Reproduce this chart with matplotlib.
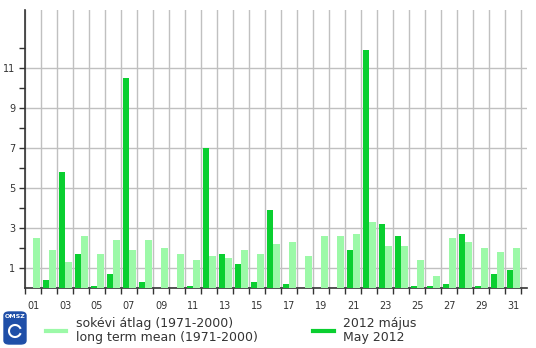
import matplotlib
matplotlib.use("Agg")
import matplotlib.pyplot as plt
from matplotlib.patches import FancyBboxPatch, Arc
import numpy as np

days = list(range(1, 32))
may_2012 = [0, 0.4, 5.8, 1.7, 0.1, 0.7, 10.5, 0.3, 0, 0, 0.1, 7.0, 1.7, 1.2, 0.3,
            3.9, 0.2, 0, 0, 0, 1.9, 11.9, 3.2, 2.6, 0.1, 0.1, 0.2, 2.7, 0.1, 0.7, 0.9]
long_term_mean = [2.5, 1.9, 1.3, 2.6, 1.7, 2.4, 1.9, 2.4, 2.0, 1.7, 1.4, 1.6, 1.5, 1.9, 1.7,
                  2.2, 2.3, 1.6, 2.6, 2.6, 2.7, 3.3, 2.1, 2.1, 1.4, 0.6, 2.5, 2.3, 2.0, 1.8, 2.0]
tick_days = list(range(1, 32, 2))
tick_labels = [f"{d:02d}" for d in tick_days]
y_major = [1, 3, 5, 7, 9, 11]
y_minor = [2, 4, 6, 8, 10, 12]

dark = "#0acf30"
light = "#9cf9a8"
grid_c = "#c0c0c0"
axis_c = "#333333"

W, H = 536, 348
fig = plt.figure(figsize=(W / 100, H / 100), dpi=100)
ax = fig.add_axes([25 / W, (H - 288.3) / H, (527 - 25) / W, (288.3 - 10) / H])

x = np.array(days, dtype=float)
ax.bar(x - 0.375, may_2012, width=0.375, align="edge", color=dark, zorder=3, linewidth=0)
ax.bar(x, long_term_mean, width=0.4375, align="edge", color=light, zorder=3, linewidth=0)

ax.set_xlim(0.5, 31.875)
ax.set_ylim(0, 13.9)

# x ticks: labels at odd days (no marks), marks at slot boundaries
ax.set_xticks(tick_days)
ax.set_xticklabels(tick_labels)
ax.set_xticks(np.arange(0.5, 32, 1.0), minor=True)
ax.tick_params(axis="x", which="major", length=0, pad=9, labelsize=7, labelcolor=axis_c)
ax.tick_params(axis="x", which="minor", length=4, width=1, color=axis_c, direction="out")
ax.xaxis.grid(True, which="minor", color=grid_c, linewidth=1, zorder=0)
for lbl in ax.get_xticklabels():
    lbl.set_x(lbl.get_position()[0])

ax.set_yticks(y_major)
ax.set_yticks(y_minor, minor=True)
ax.tick_params(axis="y", which="both", length=4, width=1, color=axis_c, direction="out",
               labelsize=7, labelcolor=axis_c, pad=3)
ax.yaxis.grid(True, which="major", color=grid_c, linewidth=1, zorder=0)
ax.set_axisbelow(True)

for s in ["top", "right"]:
    ax.spines[s].set_visible(False)
for s in ["left", "bottom"]:
    ax.spines[s].set_color(axis_c)
    ax.spines[s].set_linewidth(1.2)

# legend
def px(xp, yp):
    return xp / W, 1 - yp / H

fig.add_artist(plt.Line2D([46 / W, 66 / W], [1 - 331 / H] * 2, color=light, linewidth=3,
                          transform=fig.transFigure))
fig.add_artist(plt.Line2D([313 / W, 334 / W], [1 - 331 / H] * 2, color=dark, linewidth=3,
                          transform=fig.transFigure))
fig.text(*px(76, 323), "sokévi átlag (1971-2000)", fontsize=9, color=axis_c, va="center", ha="left")
fig.text(*px(76, 337), "long term mean (1971-2000)", fontsize=9, color=axis_c, va="center", ha="left")
fig.text(*px(343, 323), "2012 május", fontsize=9, color=axis_c, va="center", ha="left")
fig.text(*px(343, 337), "May 2012", fontsize=9, color=axis_c, va="center", ha="left")

# OMSZ logo
logo = FancyBboxPatch((4 / W, 1 - 344 / H), 22 / W, 32 / H,
                      boxstyle="round,pad=0,rounding_size=0.01",
                      transform=fig.transFigure, facecolor="#1f4fa8", edgecolor="#1f4fa8")
fig.add_artist(logo)
fig.text(*px(15, 316), "OMSZ", fontsize=4.5, color="white", ha="center", va="center",
         fontweight="bold")
arc = Arc((15 / W, 1 - 331 / H), 12 / W, 12 / H, theta1=30, theta2=330,
          transform=fig.transFigure, color="white", linewidth=1.5)
fig.add_artist(arc)

fig.savefig("out.png", dpi=100)
